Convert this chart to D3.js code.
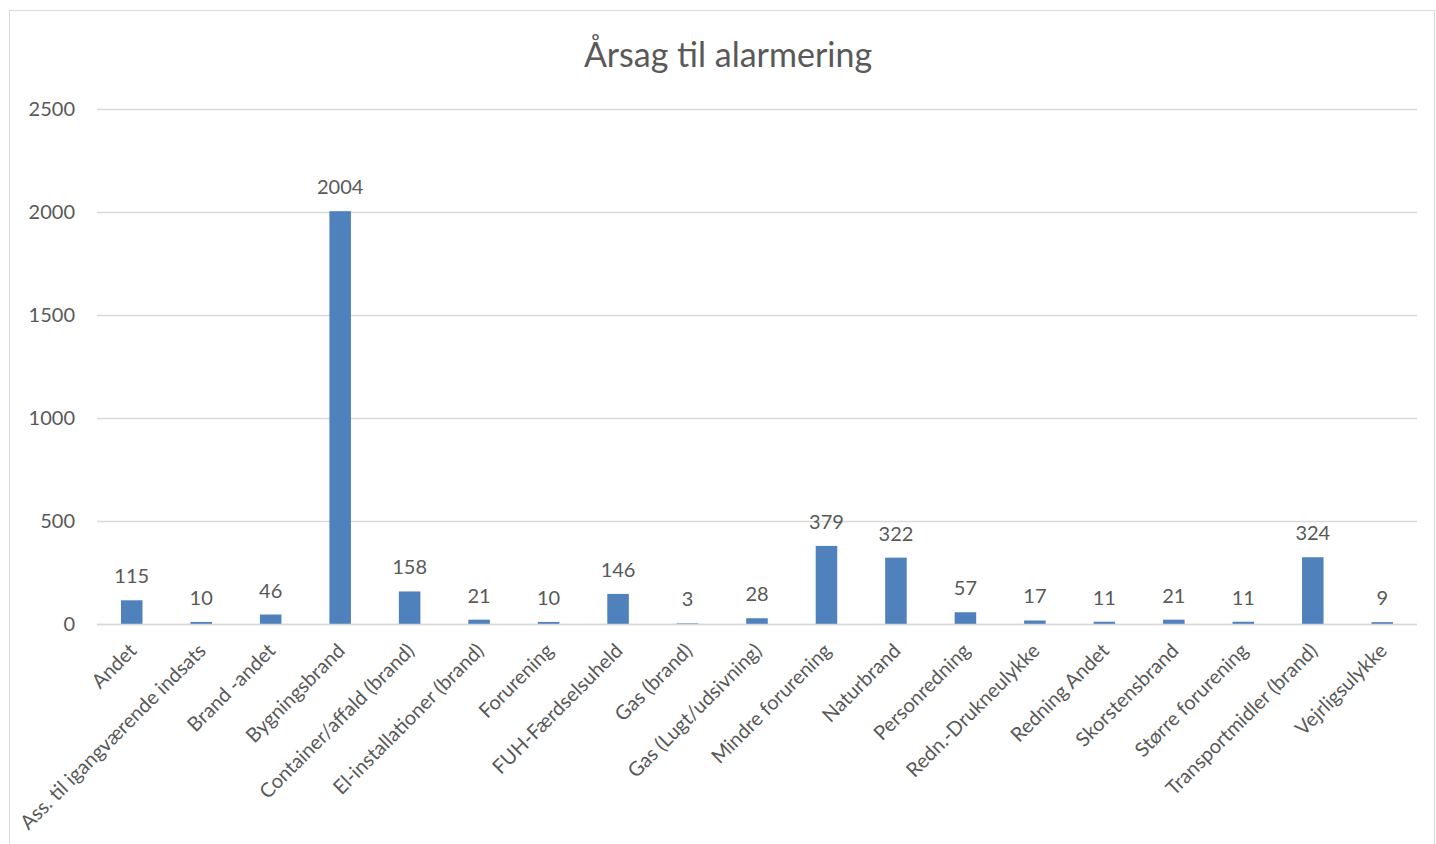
<!DOCTYPE html>
<html><head><meta charset="utf-8">
<script src="https://cdn.jsdelivr.net/npm/d3@7"></script>
<style>html,body{margin:0;padding:0;background:#fff;}svg{display:block;}</style>
</head><body>
<svg id="c" width="1436" height="844"></svg>
<script>
const categories = ["Andet","Ass. til igangværende indsats","Brand -andet","Bygningsbrand","Container/affald (brand)","El-installationer (brand)","Forurening","FUH-Færdselsuheld","Gas (brand)","Gas (Lugt/udsivning)","Mindre forurening","Naturbrand","Personredning","Redn.-Drukneulykke","Redning Andet","Skorstensbrand","Større forurening","Transportmidler (brand)","Vejrligsulykke"];
const values = [115,10,46,2004,158,21,10,146,3,28,379,322,57,17,11,21,11,324,9];
const yTicks = [0,500,1000,1500,2000,2500];
const title = "Årsag til alarmering";

(function(){
const svg = d3.select("#c");
const font = "Lato, 'Open Sans', sans-serif";
const textCol = "#595959";
const gridCol = "#d9d9d9";

svg.append("rect").attr("x",9.5).attr("y",10.5).attr("width",1425).attr("height",850)
  .attr("fill","#fff").attr("stroke",gridCol).attr("stroke-width",1);

const mLeft = 97, mRight = 1417, mTop = 109, mBottom = 624;
const x = d3.scaleBand().domain(categories).range([mLeft,mRight]).padding(0);
const y = d3.scaleLinear().domain([0,2500]).range([mBottom,mTop]);

svg.append("text").attr("x",728).attr("y",67).attr("text-anchor","middle")
  .attr("font-family",font).attr("font-size",34).attr("fill",textCol).text(title);

const yAxis = d3.axisLeft(y).tickValues(yTicks).tickFormat(d3.format("d"))
  .tickSize(-(mRight-mLeft)).tickPadding(22);
const ga = svg.append("g").attr("transform",`translate(${mLeft},0)`).call(yAxis);
ga.select(".domain").remove();
ga.selectAll(".tick line").attr("stroke",gridCol).attr("stroke-width",1.3);
ga.selectAll(".tick text").attr("font-family",font).attr("font-size",20).attr("fill",textCol);

const bw = x.bandwidth()*0.31;
svg.append("g").selectAll("rect").data(values).join("rect")
  .attr("x",(d,i)=>x(categories[i])+x.bandwidth()/2-bw/2)
  .attr("y",d=>y(d)).attr("width",bw).attr("height",d=>mBottom-y(d))
  .attr("fill","#4f81bd");

svg.append("line").attr("x1",mLeft).attr("x2",mRight).attr("y1",mBottom+0.5).attr("y2",mBottom+0.5)
  .attr("stroke",gridCol).attr("stroke-width",1.5);

svg.append("g").selectAll("text").data(values).join("text")
  .attr("x",(d,i)=>x(categories[i])+x.bandwidth()/2)
  .attr("y",d=>y(d)-17).attr("text-anchor","middle")
  .attr("font-family",font).attr("font-size",20).attr("fill",textCol).text(d=>d);

const xAxis = d3.axisBottom(x).tickSize(0).tickPadding(0);
const gx = svg.append("g").attr("transform",`translate(0,${mBottom})`).call(xAxis);
gx.select(".domain").remove();
gx.selectAll(".tick text").attr("font-family",font).attr("font-size",20).attr("fill",textCol)
  .attr("text-anchor","end").attr("dy",null).attr("y",null)
  .attr("transform","translate(6,28) rotate(-45)");
})();
</script>
</body></html>
